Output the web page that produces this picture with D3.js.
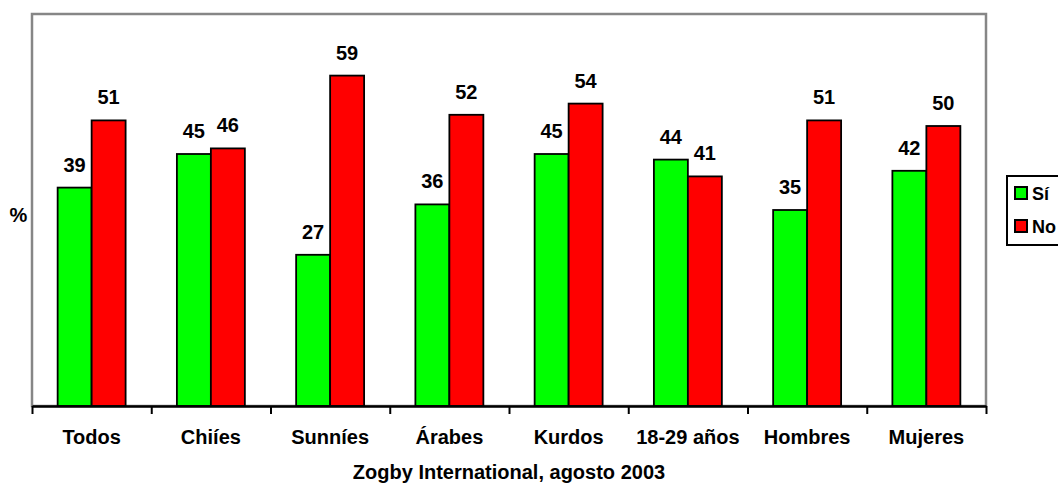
<!DOCTYPE html>
<html>
<head>
<meta charset="utf-8">
<script src="https://cdn.jsdelivr.net/npm/d3@7/dist/d3.min.js"></script>
<style>
  html, body { margin: 0; padding: 0; background: #fff; }
  svg { display: block; font-family: Arial, "Liberation Sans", sans-serif; font-weight: bold; }
</style>
</head>
<body>
<svg id="chart" width="1058" height="484"></svg>
<script>
// Survey results by group
const categories = ["Todos", "Chiíes", "Sunníes", "Árabes", "Kurdos", "18-29 años", "Hombres", "Mujeres"];
const seriesNames = ["Sí", "No"];
const siValues = [39, 45, 27, 36, 45, 44, 35, 42];
const noValues = [51, 46, 59, 52, 54, 41, 51, 50];
const seriesColors = ["#00ff00", "#ff0000"];
const caption = "Zogby International, agosto 2003";
const yLabel = "%";

const data = categories.map((c, i) => ({ cat: c, values: [siValues[i], noValues[i]] }));

const svg = d3.select("#chart");
const plot = { left: 32, right: 986, top: 14, bottom: 406 };

const x0 = d3.scaleBand()
  .domain(categories)
  .range([plot.left, plot.right])
  .paddingInner(0.43)
  .paddingOuter(0.215);

const x1 = d3.scaleBand()
  .domain(seriesNames)
  .range([0, x0.bandwidth()]);

const y = d3.scaleLinear().domain([0, 70]).range([plot.bottom, plot.top]);

// plot-area frame
svg.append("rect")
  .attr("x", plot.left).attr("y", plot.top)
  .attr("width", plot.right - plot.left).attr("height", plot.bottom - plot.top)
  .attr("fill", "#fff").attr("stroke", "#868686").attr("stroke-width", 2.5);

// bars
const groups = svg.append("g").selectAll("g")
  .data(data).join("g")
  .attr("transform", d => `translate(${x0(d.cat)},0)`);

groups.selectAll("rect")
  .data(d => d.values.map((v, j) => ({ s: seriesNames[j], v, j })))
  .join("rect")
  .attr("x", d => x1(d.s))
  .attr("y", d => y(d.v))
  .attr("width", x1.bandwidth())
  .attr("height", d => y(0) - y(d.v))
  .attr("fill", d => seriesColors[d.j])
  .attr("stroke", "#000").attr("stroke-width", 1.8);

// value labels
groups.selectAll("text")
  .data(d => d.values.map((v, j) => ({ s: seriesNames[j], v })))
  .join("text")
  .attr("x", d => x1(d.s) + x1.bandwidth() / 2)
  .attr("y", d => y(d.v) - 16)
  .attr("text-anchor", "middle")
  .attr("font-size", 20)
  .attr("fill", "#000")
  .text(d => d.v);

// category axis: tick marks at the group boundaries
const xTicks = d3.scaleLinear().domain([0, categories.length]).range([plot.left, plot.right]);
const tickAxis = d3.axisBottom(xTicks)
  .tickValues(d3.range(categories.length + 1))
  .tickSize(8)
  .tickSizeOuter(0)
  .tickFormat("");
svg.append("g")
  .attr("transform", `translate(0,${plot.bottom})`)
  .call(tickAxis)
  .call(g => g.select(".domain").attr("stroke", "#000").attr("stroke-width", 2.5))
  .call(g => g.selectAll(".tick line").attr("stroke", "#000").attr("stroke-width", 2));

// category labels
const labelAxis = d3.axisBottom(x0).tickSize(0).tickPadding(0);
svg.append("g")
  .attr("transform", `translate(0,${plot.bottom})`)
  .call(labelAxis)
  .call(g => g.select(".domain").remove())
  .call(g => g.selectAll(".tick text")
    .attr("dy", null).attr("y", 38)
    .attr("font-size", 20).attr("font-weight", "bold")
    .attr("font-family", "Arial, 'Liberation Sans', sans-serif")
    .attr("fill", "#000"));

// axis titles
svg.append("text")
  .attr("x", (plot.left + plot.right) / 2).attr("y", 479)
  .attr("text-anchor", "middle").attr("font-size", 20)
  .text(caption);

svg.append("text")
  .attr("x", 18.5).attr("y", 221.5)
  .attr("text-anchor", "middle").attr("font-size", 20)
  .text(yLabel);

// legend
const legend = svg.append("g").attr("transform", "translate(1007,176)");
legend.append("rect")
  .attr("x", 0).attr("y", 0).attr("width", 90).attr("height", 69)
  .attr("fill", "#fff").attr("stroke", "#000").attr("stroke-width", 2);
const items = legend.selectAll("g.item")
  .data(seriesNames).join("g").attr("class", "item")
  .attr("transform", (d, i) => `translate(0,${i * 33})`);
items.append("rect")
  .attr("x", 8).attr("y", 11).attr("width", 12).attr("height", 12)
  .attr("fill", (d, i) => seriesColors[i])
  .attr("stroke", "#000").attr("stroke-width", 2);
items.append("text")
  .attr("x", 25).attr("y", 24)
  .attr("font-size", 18)
  .text(d => d);
</script>
</body>
</html>
